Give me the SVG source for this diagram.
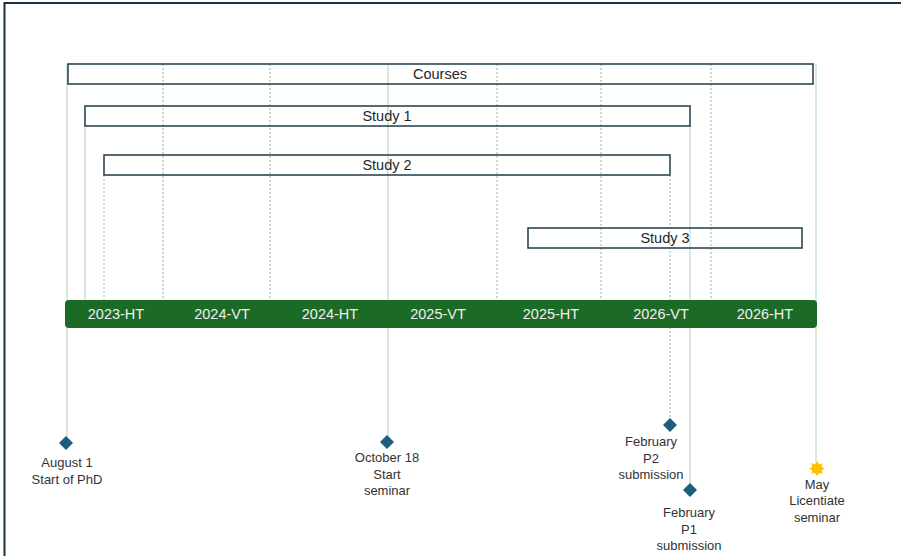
<svg xmlns="http://www.w3.org/2000/svg" width="901" height="556" viewBox="0 0 901 556">
  <style>
    .bar { fill: none; stroke: #2c4752; stroke-width: 1.6; }
    .barlabel { font-family: "Liberation Sans", Arial, sans-serif; font-size: 14.5px; fill: #262626; text-anchor: middle; }
    .term { font-family: "Liberation Sans", Arial, sans-serif; font-size: 14.5px; fill: #f0f0f0; text-anchor: middle; }
    .grid { stroke: #8fbf8f; stroke-width: 1; stroke-dasharray: 2 2; fill: none; }
    .lead { stroke: #bcdac6; stroke-width: 1.2; fill: none; }
    .leaddash { stroke: #8fbf8f; stroke-width: 1; stroke-dasharray: 2 2; fill: none; }
    .diamond { fill: #1b5e7e; }
    .note { font-family: "Liberation Sans", Arial, sans-serif; font-size: 13px; fill: #333333; text-anchor: middle; }
  </style>

  <rect width="901" height="556" fill="#ffffff"/>
  <!-- frame -->
  <path d="M4.5 556 V3 H901" fill="none" stroke="#17323f" stroke-width="2"/>

  <!-- connectors: semester grid and milestone leader lines -->
  <g id="connectors">
    <line class="grid" x1="163" y1="64" x2="163" y2="300"/>
    <line class="grid" x1="270" y1="64" x2="270" y2="300"/>
    <line class="grid" x1="497" y1="64" x2="497" y2="300"/>
    <line class="grid" x1="601" y1="64" x2="601" y2="300"/>
    <line class="grid" x1="711" y1="64" x2="711" y2="300"/>
    <line class="lead" x1="388" y1="64" x2="388" y2="437"/>
    <line class="lead" x1="67" y1="64" x2="67" y2="437"/>
    <line class="lead" x1="85" y1="126" x2="85" y2="300"/>
    <line class="leaddash" x1="104" y1="175" x2="104" y2="300"/>
    <line class="leaddash" x1="670" y1="175" x2="670" y2="419"/>
    <line class="lead" x1="690" y1="126" x2="690" y2="484"/>
    <line class="lead" x1="816" y1="64" x2="816" y2="462"/>
  </g>

  <g id="courses">
    <rect class="bar" x="68" y="64" width="745" height="20"/>
    <text class="barlabel" x="440" y="79">Courses</text>
  </g>
  <g id="study1">
    <rect class="bar" x="85" y="106" width="605" height="20"/>
    <text class="barlabel" x="387" y="121">Study 1</text>
  </g>
  <g id="study2">
    <rect class="bar" x="104" y="155" width="566" height="20"/>
    <text class="barlabel" x="387" y="170">Study 2</text>
  </g>
  <g id="study3">
    <rect class="bar" x="528" y="228" width="274" height="20"/>
    <text class="barlabel" x="665" y="243">Study 3</text>
  </g>

  <g id="timeline">
    <rect x="65" y="300" width="752" height="28" rx="4" fill="#1b6b26"/>
    <text class="term" x="116" y="319">2023-HT</text>
    <text class="term" x="222" y="319">2024-VT</text>
    <text class="term" x="330" y="319">2024-HT</text>
    <text class="term" x="438" y="319">2025-VT</text>
    <text class="term" x="551" y="319">2025-HT</text>
    <text class="term" x="661" y="319">2026-VT</text>
    <text class="term" x="765" y="319">2026-HT</text>
  </g>

  <g id="start-phd">
    <path class="diamond" d="M66 436 L73 443 L66 450 L59 443 Z"/>
    <text class="note" x="67" y="467">August 1</text>
    <text class="note" x="67" y="484">Start of PhD</text>
  </g>
  <g id="start-seminar">
    <path class="diamond" d="M387 435 L394 442 L387 449 L380 442 Z"/>
    <text class="note" x="387" y="462">October 18</text>
    <text class="note" x="387" y="479">Start</text>
    <text class="note" x="387" y="495">seminar</text>
  </g>
  <g id="p2-submission">
    <path class="diamond" d="M670 418 L677 425 L670 432 L663 425 Z"/>
    <text class="note" x="651" y="446">February</text>
    <text class="note" x="651" y="463">P2</text>
    <text class="note" x="651" y="479">submission</text>
  </g>
  <g id="p1-submission">
    <path class="diamond" d="M690 483 L697 490 L690 497 L683 490 Z"/>
    <text class="note" x="689" y="517">February</text>
    <text class="note" x="689" y="534">P1</text>
    <text class="note" x="689" y="550">submission</text>
  </g>
  <g id="licentiate-seminar">
    <path fill="#ffc000" d="M817 461 L819 464.2 L822.6 463.3 L821.7 466.9 L824.9 468.5 L821.7 470.3 L822.6 473.8 L819 472.9 L817 476 L815 472.9 L811.4 473.8 L812.3 470.3 L809.1 468.5 L812.3 466.9 L811.4 463.3 L815 464.2 Z"/>
    <text class="note" x="817" y="489">May</text>
    <text class="note" x="817" y="505">Licentiate</text>
    <text class="note" x="817" y="522">seminar</text>
  </g>
</svg>
